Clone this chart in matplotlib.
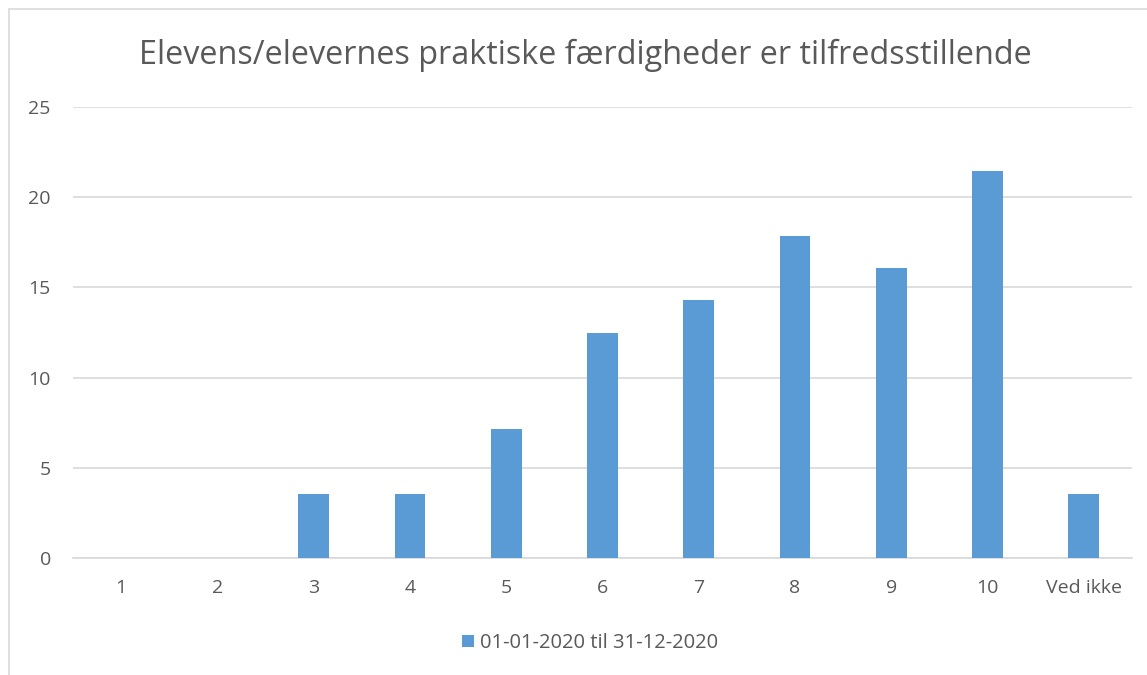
import numpy as np
import matplotlib.pyplot as plt
from matplotlib.patches import Rectangle

categories = ['1', '2', '3', '4', '5', '6', '7', '8', '9', '10', 'Ved ikke']
values = [0, 0, 3.57, 3.57, 7.14, 12.5, 14.29, 17.86, 16.07, 21.43, 3.57]
series_name = '01-01-2020 til 31-12-2020'
title = 'Elevens/elevernes praktiske færdigheder er tilfredsstillende'

plt.rcParams['font.family'] = ['Open Sans', 'DejaVu Sans']
W, H = 1147, 675
fig = plt.figure(figsize=(W / 100, H / 100), dpi=100)

# chart frame
fig.patches.append(Rectangle((9 / W, -0.1), 1.1, 1 - 9 / H + 0.1, transform=fig.transFigure,
                             fill=False, edgecolor='#D9D9D9', linewidth=1.2))

ax = fig.add_axes([73 / W, 1 - 558 / H, (1132 - 73) / W, (558 - 107) / H])
x = np.arange(len(categories))
ax.bar(x, values, width=0.32, color='#5B9BD5', label=series_name, zorder=3)

ax.set_xlim(-0.5, len(categories) - 0.5)
ax.set_ylim(0, 25)
ax.set_yticks(range(0, 26, 5))
ax.set_xticks(x)
ax.set_xticklabels(categories)
ax.grid(axis='y', color='#D9D9D9', linewidth=1.2, zorder=0)
for s in ['top', 'right', 'left']:
    ax.spines[s].set_visible(False)
ax.spines['bottom'].set_color('#D9D9D9')
ax.spines['bottom'].set_linewidth(1.2)
ax.tick_params(length=0, labelsize=14, colors='#595959')
ax.tick_params(axis='x', pad=15)
ax.tick_params(axis='y', pad=16)

fig.text(585 / W, 1 - 55 / H, title, ha='center', va='center', fontsize=23.3, color='#595959')

fig.legend(loc='center', bbox_to_anchor=(590 / W, 1 - 643 / H), frameon=False, fontsize=14.5,
           handlelength=0.6, handleheight=0.6, handletextpad=0.3, labelcolor='#595959')

fig.savefig('out.png', dpi=100)
